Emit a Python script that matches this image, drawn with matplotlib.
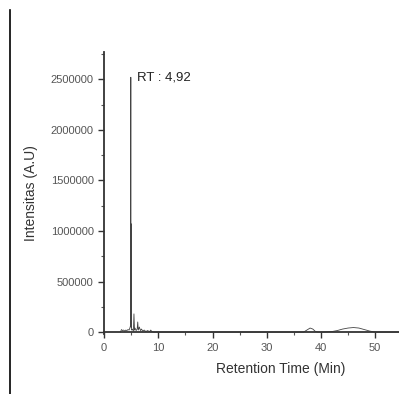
import matplotlib.pyplot as plt
from matplotlib.lines import Line2D
from matplotlib.ticker import MultipleLocator

plt.rcParams["font.family"] = ["Liberation Sans", "DejaVu Sans"]

# chromatogram trace
rt = [3.0, 3.2, 3.4, 3.6, 3.8, 4.0, 4.2, 4.4, 4.6, 4.75, 4.85, 4.92, 4.97, 5.0, 5.03, 5.08,
      5.2, 5.4, 5.5, 5.6, 5.7, 5.9, 6.1, 6.2, 6.3, 6.5, 6.7, 6.9, 7.1, 7.4, 7.7, 8.0, 8.4,
      8.6, 8.8, 9.2, 10, 15, 20, 25, 30, 35, 36.8, 37.4, 38.0, 38.5, 39.0, 39.5, 40.5,
      42, 43, 44, 45, 46, 47, 48, 49, 50, 52, 54.4]
intensity = [0, 25000, 15000, 20000, 10000, 20000, 15000, 25000, 20000, 40000, 60000,
             2520000, 50000, 1070000, 40000, 20000, 30000, 10000, 180000, 20000, 40000,
             15000, 30000, 100000, 20000, 50000, 15000, 30000, 10000, 20000, 5000, 15000,
             5000, 20000, 5000, 0, 0, 0, 0, 0, 0, 0, 0, 20000, 40000, 30000, 5000, 0, 0,
             5000, 15000, 30000, 40000, 45000, 40000, 25000, 10000, 0, 0, 0]

fig = plt.figure(figsize=(3.99, 3.94), dpi=100)
ax = fig.add_axes([0.261, 0.152, 0.739, 0.716])

ax.plot(rt, intensity, color="#444444", linewidth=0.6)
ax.text(6.0, 2520000, "RT : 4,92", fontsize=9.5, va="center", color="#222222")

ax.set_xlim(0, 54.4)
ax.set_ylim(-20000, 2770000)
ax.xaxis.set_major_locator(MultipleLocator(10))
ax.xaxis.set_minor_locator(MultipleLocator(5))
ax.yaxis.set_major_locator(MultipleLocator(500000))
ax.yaxis.set_minor_locator(MultipleLocator(250000))
ax.ticklabel_format(axis="y", style="plain")

for s in ["top", "right"]:
    ax.spines[s].set_visible(False)
for s in ["left", "bottom"]:
    ax.spines[s].set_linewidth(1.3)
    ax.spines[s].set_color("#333333")
ax.spines["bottom"].set_position(("data", 0))

ax.tick_params(which="major", length=4, width=1, labelsize=8, labelcolor="#555555", color="#333333")
ax.tick_params(which="minor", length=2.5, width=0.8, color="#555555")

ax.set_xlabel("Retention Time (Min)", fontsize=10, color="#333333", labelpad=7)
ax.xaxis.set_label_coords(0.6, -0.1)
ax.set_ylabel("Intensitas (A.U)", fontsize=10, color="#333333", labelpad=9)

# border line on the left of the picture
fig.add_artist(Line2D([0.026, 0.026], [0, 0.975], color="black", linewidth=1.2))

fig.savefig("out.png", dpi=100)
